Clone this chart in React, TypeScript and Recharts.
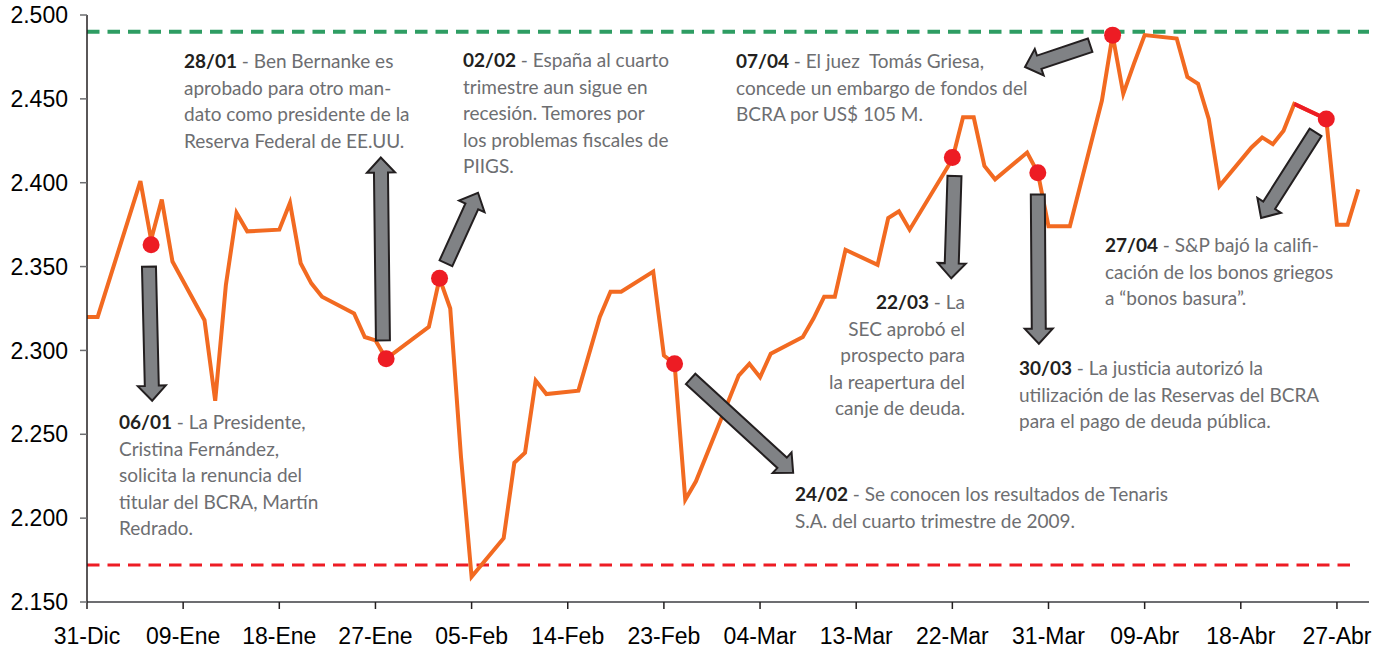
import React from "react"
import {
  LineChart,
  Line,
  XAxis,
  YAxis,
  ReferenceLine,
} from "recharts"

// daily quote, Dec 2009 – Apr 2010
const dates = [
  "2009-12-31", "2010-01-01", "2010-01-05", "2010-01-06", "2010-01-07", "2010-01-08",
  "2010-01-11", "2010-01-12", "2010-01-13", "2010-01-14", "2010-01-15", "2010-01-18",
  "2010-01-19", "2010-01-20", "2010-01-21", "2010-01-22", "2010-01-25", "2010-01-26",
  "2010-01-27", "2010-01-28", "2010-02-01", "2010-02-02", "2010-02-03", "2010-02-04",
  "2010-02-05", "2010-02-08", "2010-02-09", "2010-02-10", "2010-02-11", "2010-02-12",
  "2010-02-15", "2010-02-17", "2010-02-18", "2010-02-19", "2010-02-22", "2010-02-23",
  "2010-02-24", "2010-02-25", "2010-02-26", "2010-03-02", "2010-03-03", "2010-03-04",
  "2010-03-05", "2010-03-08", "2010-03-09", "2010-03-10", "2010-03-11", "2010-03-12",
  "2010-03-15", "2010-03-16", "2010-03-17", "2010-03-18", "2010-03-22", "2010-03-23",
  "2010-03-24", "2010-03-25", "2010-03-26", "2010-03-29", "2010-03-30", "2010-03-31",
  "2010-04-02", "2010-04-05", "2010-04-06", "2010-04-07", "2010-04-08", "2010-04-09",
  "2010-04-12", "2010-04-13", "2010-04-14", "2010-04-15", "2010-04-16", "2010-04-19",
  "2010-04-20", "2010-04-21", "2010-04-22", "2010-04-23", "2010-04-26", "2010-04-27",
  "2010-04-28", "2010-04-29",
]

const values = [
  2320, 2320, 2401, 2366, 2390, 2353,
  2318, 2270, 2339, 2382, 2371, 2372,
  2388, 2352, 2340, 2332, 2322, 2308,
  2306, 2295, 2314, 2343, 2325, 2237,
  2165, 2188, 2233, 2239, 2282, 2274,
  2276, 2320, 2335, 2335, 2347, 2297,
  2292, 2211, 2222, 2285, 2292, 2284,
  2298, 2308, 2319, 2332, 2332, 2360,
  2351, 2379, 2383, 2372, 2414, 2439,
  2439, 2410, 2402, 2418, 2406, 2374,
  2374, 2449, 2488, 2453, 2471, 2488,
  2486, 2463, 2459, 2438, 2398, 2421,
  2427, 2423, 2431, 2447, 2438, 2375,
  2375, 2396,
]

// highlighted events (red dots)
const eventDates = [
  "2010-01-06", "2010-01-28", "2010-02-02", "2010-02-24",
  "2010-03-22", "2010-03-30", "2010-04-06", "2010-04-26",
]
const eventValues = [2363, 2295, 2343, 2292, 2415, 2406, 2488, 2438]

// short red stretch before the S&P downgrade
const segDates = ["2010-04-23", "2010-04-26"]
const segValues = [2447, 2438]

const xTicks = [0, 9, 18, 27, 36, 45, 54, 63, 72, 81, 90, 99, 108, 117]
const xTickLabels = [
  "31-Dic", "09-Ene", "18-Ene", "27-Ene", "05-Feb", "14-Feb", "23-Feb",
  "04-Mar", "13-Mar", "22-Mar", "31-Mar", "09-Abr", "18-Abr", "27-Abr",
]
const yTicks = [2150, 2200, 2250, 2300, 2350, 2400, 2450, 2500]

const maxLevel = 2490
const minLevel = 2172

// arrows: [dayFrom, valueFrom, dayTo, valueTo]
const arrows = [
  [5.8, 2350, 6.1, 2270],
  [27.7, 2306, 27.5, 2415],
  [33.6, 2352, 36.6, 2394],
  [56.5, 2283, 66.1, 2227],
  [81.2, 2404, 80.9, 2343],
  [89.0, 2393, 89.1, 2304],
  [93.9, 2482, 87.8, 2469],
  [115.0, 2430, 109.9, 2379],
]

const START = Date.UTC(2009, 11, 31)
const toDay = (d: string) => {
  const [y, m, dd] = d.split("-").map(Number)
  return Math.round((Date.UTC(y, m - 1, dd) - START) / 86400000)
}

const chartData = dates.map((d, i) => {
  const ei = eventDates.indexOf(d)
  const si = segDates.indexOf(d)
  return {
    day: toDay(d),
    value: values[i],
    event: ei >= 0 ? eventValues[ei] : null,
    seg: si >= 0 ? segValues[si] : null,
  }
})

const FatArrow = (props: any) => {
  const { x1, y1, x2, y2 } = props
  const dx = x2 - x1
  const dy = y2 - y1
  const len = Math.hypot(dx, dy) || 1
  const ux = dx / len
  const uy = dy / len
  const px = -uy
  const py = ux
  const sw = 7
  const hw = 14
  const hl = 15
  const nx = x2 - ux * hl
  const ny = y2 - uy * hl
  const pts = [
    [x1 + px * sw, y1 + py * sw],
    [nx + px * sw, ny + py * sw],
    [nx + px * hw, ny + py * hw],
    [x2, y2],
    [nx - px * hw, ny - py * hw],
    [nx - px * sw, ny - py * sw],
    [x1 - px * sw, y1 - py * sw],
  ]
  return (
    <polygon
      points={pts.map((p) => p.join(",")).join(" ")}
      fill="#808285"
      stroke="#231f20"
      strokeWidth={2}
      strokeLinejoin="miter"
    />
  )
}

const noteFont = "Lato, 'Open Sans', sans-serif"

const Note = ({
  left,
  top,
  right,
  date,
  lines,
}: {
  left?: number
  top: number
  right?: number
  date: string
  lines: string[]
}) => (
  <div
    style={{
      position: "absolute",
      left,
      right,
      top,
      fontFamily: noteFont,
      fontSize: 19,
      lineHeight: "26.6px",
      color: "#6d6e71",
      whiteSpace: "pre",
      textAlign: right !== undefined ? "right" : "left",
    }}
  >
    {lines.map((l, i) => (
      <div key={i}>
        {i === 0 && (
          <>
            <span style={{ fontWeight: 700, color: "#231f20" }}>{date}</span>
            {" - "}
          </>
        )}
        {l}
      </div>
    ))}
  </div>
)

export default function App() {
  return (
    <div
      style={{
        position: "absolute",
        left: 0,
        top: 0,
        width: 1390,
        height: 653,
        background: "#fff",
      }}
    >
      <LineChart
        width={1390}
        height={653}
        data={chartData}
        margin={{ top: 15, right: 21, bottom: 0, left: 0 }}
      >
        <XAxis
          dataKey="day"
          type="number"
          domain={[0, 120]}
          ticks={xTicks}
          tickFormatter={(v) => xTickLabels[xTicks.indexOf(v)]}
          height={51}
          tickSize={7}
          tickMargin={19}
          axisLine={{ stroke: "#6d6e71", strokeWidth: 2 }}
          tickLine={{ stroke: "#231f20", strokeWidth: 1.5 }}
          tick={{ fontSize: 23, fill: "#000", fontFamily: "'Liberation Sans', Arial, sans-serif" }}
          interval={0}
        />
        <YAxis
          type="number"
          domain={[2150, 2500]}
          ticks={yTicks}
          tickFormatter={(v) => (v / 1000).toFixed(3)}
          width={87}
          tickSize={7}
          tickMargin={12}
          axisLine={{ stroke: "#231f20", strokeWidth: 1.5 }}
          tickLine={{ stroke: "#6d6e71", strokeWidth: 1.5 }}
          tick={{ fontSize: 23, fill: "#000", fontFamily: "'Liberation Sans', Arial, sans-serif" }}
          interval={0}
        />
        <ReferenceLine
          segment={[{ x: 0, y: maxLevel }, { x: 120, y: maxLevel }]}
          stroke="#2e9d63"
          strokeWidth={4}
          strokeDasharray="12.5 8"
          ifOverflow="visible"
        />
        <ReferenceLine
          segment={[{ x: 0, y: minLevel }, { x: 118.4, y: minLevel }]}
          stroke="#ed1c24"
          strokeWidth={3}
          strokeDasharray="12.5 8"
          ifOverflow="visible"
        />
        <Line
          type="linear"
          dataKey="value"
          stroke="#f26a21"
          strokeWidth={4}
          dot={false}
          activeDot={false}
          isAnimationActive={false}
        />
        <Line
          type="linear"
          dataKey="seg"
          stroke="#ed1c24"
          strokeWidth={4}
          dot={false}
          activeDot={false}
          isAnimationActive={false}
        />
        <Line
          type="linear"
          dataKey="event"
          stroke="none"
          dot={{ r: 8.5, fill: "#ed1c24", stroke: "#ed1c24", strokeWidth: 0 }}
          activeDot={false}
          isAnimationActive={false}
        />
        {arrows.map((a, i) => (
          <ReferenceLine
            key={i}
            segment={[{ x: a[0], y: a[1] }, { x: a[2], y: a[3] }]}
            ifOverflow="visible"
            shape={FatArrow}
          />
        ))}
      </LineChart>

      <Note
        left={184}
        top={48}
        date="28/01"
        lines={["Ben Bernanke es", "aprobado para otro man-", "dato como presidente de la", "Reserva Federal de EE.UU."]}
      />
      <Note
        left={463}
        top={47}
        date="02/02"
        lines={["España al cuarto", "trimestre aun sigue en", "recesión. Temores por", "los problemas fiscales de", "PIIGS."]}
      />
      <Note
        left={736}
        top={48}
        date="07/04"
        lines={["El juez  Tomás Griesa,", "concede un embargo de fondos del", "BCRA por US$ 105 M."]}
      />
      <Note
        left={119}
        top={409}
        date="06/01"
        lines={["La Presidente,", "Cristina Fernández,", "solicita la renuncia del", "titular del BCRA, Martín", "Redrado."]}
      />
      <Note
        right={1390 - 965}
        top={289}
        date="22/03"
        lines={["La", "SEC aprobó el", "prospecto para", "la reapertura del", "canje de deuda."]}
      />
      <Note
        left={795}
        top={481}
        date="24/02"
        lines={["Se conocen los resultados de Tenaris", "S.A. del cuarto trimestre de 2009."]}
      />
      <Note
        left={1019}
        top={355}
        date="30/03"
        lines={["La justicia autorizó la", "utilización de las Reservas del BCRA", "para el pago de deuda pública."]}
      />
      <Note
        left={1105}
        top={232}
        date="27/04"
        lines={["S&P bajó la califi-", "cación de los bonos griegos", "a “bonos basura”."]}
      />
    </div>
  )
}
